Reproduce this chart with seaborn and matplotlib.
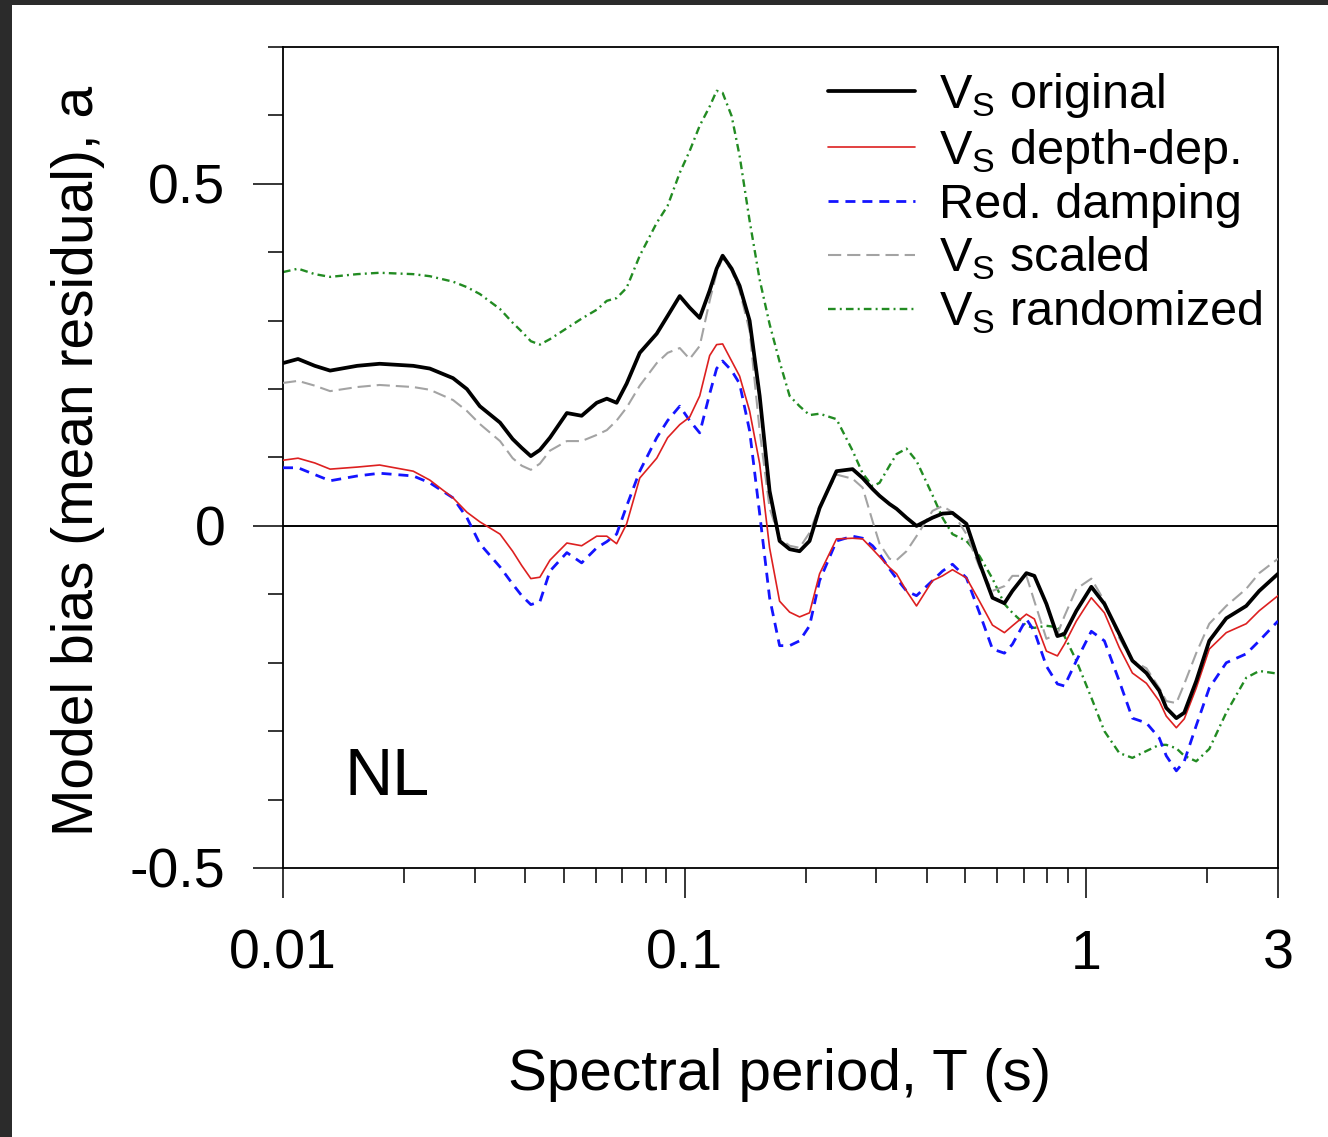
import matplotlib
matplotlib.use("Agg")
import matplotlib.pyplot as plt
import seaborn as sns
import pandas as pd
from matplotlib.patches import Rectangle

# ---------------- data ----------------
period = [0.0100, 0.0109, 0.0120, 0.0131, 0.0153, 0.0174, 0.0211, 0.0232, 0.0265, 0.0287,
          0.0309, 0.0347, 0.0373, 0.0393, 0.0414, 0.0436, 0.0462, 0.0509, 0.0554, 0.0604,
          0.0640, 0.0677, 0.0717, 0.0773, 0.0852, 0.0907, 0.0972, 0.1029, 0.1090, 0.1154,
          0.1201, 0.1243, 0.1309, 0.1370, 0.1451, 0.1537, 0.1627, 0.1723, 0.1825, 0.1932,
          0.2046, 0.2167, 0.2388, 0.2618, 0.2773, 0.2936, 0.3056, 0.3236, 0.3369, 0.3566,
          0.3777, 0.4140, 0.4384, 0.4642, 0.5029, 0.5419, 0.5838, 0.6252, 0.6545, 0.7091,
          0.7423, 0.7954, 0.8471, 0.8818, 0.9445, 1.029, 1.109, 1.208, 1.302, 1.411,
          1.519, 1.581, 1.675, 1.753, 1.877, 2.023, 2.230, 2.500, 2.694, 3.000]

vs_original = [0.238, 0.244, 0.234, 0.227, 0.234, 0.237, 0.234, 0.230, 0.216, 0.200,
               0.175, 0.151, 0.127, 0.114, 0.102, 0.111, 0.129, 0.165, 0.161, 0.180,
               0.186, 0.180, 0.208, 0.253, 0.281, 0.307, 0.336, 0.319, 0.304, 0.344,
               0.376, 0.395, 0.376, 0.351, 0.300, 0.190, 0.051, -0.022, -0.034, -0.037,
               -0.022, 0.026, 0.080, 0.083, 0.070, 0.054, 0.044, 0.032, 0.025, 0.012,
               0.000, 0.012, 0.018, 0.019, 0.003, -0.054, -0.105, -0.113, -0.095, -0.069,
               -0.073, -0.114, -0.161, -0.158, -0.124, -0.089, -0.114, -0.158, -0.197, -0.215,
               -0.241, -0.266, -0.281, -0.273, -0.227, -0.168, -0.135, -0.117, -0.095, -0.070]

vs_depth_dep = [0.096, 0.099, 0.092, 0.083, 0.086, 0.089, 0.080, 0.067, 0.041, 0.020,
                0.006, -0.012, -0.037, -0.058, -0.077, -0.075, -0.050, -0.025, -0.029, -0.015,
                -0.015, -0.026, 0.003, 0.070, 0.099, 0.129, 0.148, 0.159, 0.190, 0.249,
                0.265, 0.266, 0.241, 0.219, 0.168, 0.091, -0.032, -0.110, -0.126, -0.133,
                -0.127, -0.070, -0.019, -0.018, -0.019, -0.034, -0.045, -0.061, -0.070, -0.095,
                -0.117, -0.080, -0.073, -0.064, -0.076, -0.110, -0.145, -0.156, -0.146, -0.129,
                -0.136, -0.183, -0.190, -0.173, -0.139, -0.105, -0.127, -0.178, -0.215, -0.230,
                -0.256, -0.278, -0.295, -0.282, -0.237, -0.180, -0.156, -0.143, -0.124, -0.102]

red_damping = [0.085, 0.085, 0.075, 0.066, 0.073, 0.077, 0.073, 0.063, 0.041, 0.012,
               -0.026, -0.060, -0.085, -0.102, -0.115, -0.111, -0.066, -0.039, -0.054, -0.032,
               -0.023, -0.012, 0.029, 0.080, 0.129, 0.154, 0.175, 0.154, 0.136, 0.193,
               0.230, 0.241, 0.227, 0.208, 0.139, 0.018, -0.105, -0.175, -0.175, -0.168,
               -0.146, -0.080, -0.022, -0.015, -0.018, -0.029, -0.041, -0.063, -0.077, -0.095,
               -0.102, -0.080, -0.066, -0.056, -0.076, -0.127, -0.180, -0.186, -0.173, -0.136,
               -0.154, -0.205, -0.231, -0.234, -0.197, -0.154, -0.168, -0.227, -0.281, -0.288,
               -0.310, -0.336, -0.358, -0.344, -0.292, -0.237, -0.200, -0.187, -0.168, -0.139]

vs_scaled = [0.209, 0.212, 0.205, 0.197, 0.203, 0.206, 0.203, 0.199, 0.184, 0.168,
             0.149, 0.124, 0.099, 0.088, 0.082, 0.091, 0.110, 0.124, 0.124, 0.133,
             0.140, 0.154, 0.173, 0.205, 0.238, 0.253, 0.260, 0.244, 0.263, 0.329,
             0.370, 0.392, 0.373, 0.344, 0.285, 0.139, 0.026, -0.018, -0.029, -0.032,
             -0.010, 0.029, 0.075, 0.069, 0.056, 0.007, -0.026, -0.048, -0.050, -0.037,
             -0.015, 0.022, 0.029, 0.020, -0.012, -0.060, -0.095, -0.088, -0.073, -0.073,
             -0.110, -0.165, -0.158, -0.132, -0.092, -0.077, -0.110, -0.164, -0.197, -0.208,
             -0.237, -0.256, -0.259, -0.231, -0.186, -0.143, -0.117, -0.092, -0.069, -0.048]

vs_randomized = [0.371, 0.376, 0.368, 0.364, 0.368, 0.370, 0.368, 0.365, 0.357, 0.349,
                 0.339, 0.317, 0.297, 0.284, 0.270, 0.265, 0.273, 0.289, 0.303, 0.316,
                 0.329, 0.333, 0.348, 0.395, 0.443, 0.468, 0.516, 0.548, 0.585, 0.613,
                 0.636, 0.633, 0.599, 0.541, 0.446, 0.360, 0.295, 0.240, 0.190, 0.175,
                 0.162, 0.164, 0.156, 0.110, 0.077, 0.058, 0.063, 0.088, 0.105, 0.113,
                 0.095, 0.045, 0.012, -0.012, -0.022, -0.044, -0.077, -0.114, -0.127, -0.146,
                 -0.149, -0.146, -0.148, -0.161, -0.197, -0.251, -0.300, -0.332, -0.339, -0.329,
                 -0.320, -0.320, -0.325, -0.336, -0.344, -0.326, -0.273, -0.222, -0.212, -0.216]

series_labels = [r"V$_\mathregular{S}$ original", r"V$_\mathregular{S}$ depth-dep.",
                 "Red. damping", r"V$_\mathregular{S}$ scaled", r"V$_\mathregular{S}$ randomized"]

x_major = [0.01, 0.1, 1, 3]
x_major_labels = ["0.01", "0.1", "1", "3"]
y_major = [-0.5, 0, 0.5]
y_major_labels = ["-0.5", "0", "0.5"]

# ---------------- style ----------------
sns.set_theme(style="white")
plt.rcParams["font.family"] = ["Liberation Sans", "DejaVu Sans"]
plt.rcParams["mathtext.fontset"] = "custom"
plt.rcParams["mathtext.rm"] = "Liberation Sans"
plt.rcParams["lines.scale_dashes"] = False
plt.rcParams["text.color"] = "black"
plt.rcParams["axes.labelcolor"] = "black"
plt.rcParams["xtick.color"] = "black"
plt.rcParams["ytick.color"] = "black"
plt.rcParams["lines.solid_joinstyle"] = "round"
plt.rcParams["lines.dash_joinstyle"] = "round"

fig = plt.figure(figsize=(13.28, 11.37), dpi=100)
fig.patch.set_facecolor("white")
ax = fig.add_axes([283 / 1328, 1 - 868 / 1137, (1278 - 283) / 1328, (868 - 47) / 1137])
ax.set_facecolor("white")

data = {
    series_labels[0]: vs_original,
    series_labels[1]: vs_depth_dep,
    series_labels[2]: red_damping,
    series_labels[3]: vs_scaled,
    series_labels[4]: vs_randomized,
}
styles = {
    series_labels[0]: dict(color="black", lw=2.7, dashes=None, z=6),
    series_labels[1]: dict(color="#dd2020", lw=1.2, dashes=None, z=5),
    series_labels[2]: dict(color="#1414ff", lw=2.0, dashes=(7.2, 5.0), z=4),
    series_labels[3]: dict(color="#a3a3a3", lw=1.5, dashes=(9.5, 4.3), z=3),
    series_labels[4]: dict(color="#228b22", lw=1.7, dashes=(5.5, 3.0, 1.4, 3.0), z=2),
}

ax.axhline(0, color="black", lw=1.4, zorder=1)

handles = {}
for name in series_labels:
    st = styles[name]
    df = pd.DataFrame({"period": period, "bias": data[name]})
    sns.lineplot(data=df, x="period", y="bias", ax=ax, color=st["color"], lw=st["lw"],
                 estimator=None, zorder=st["z"], label=name, legend=False)
    line = ax.lines[-1]
    if st["dashes"] is not None:
        line.set_dashes(st["dashes"])
    handles[name] = line

ax.set_xscale("log")
ax.set_xlim(0.01, 3)
ax.set_ylim(-0.5, 0.7)
ax.set_xlabel("")
ax.set_ylabel("")

ax.set_xticks(x_major)
ax.set_xticklabels(x_major_labels)
ax.set_xticks([0.02, 0.03, 0.04, 0.05, 0.06, 0.07, 0.08, 0.09,
               0.2, 0.3, 0.4, 0.5, 0.6, 0.7, 0.8, 0.9, 2], minor=True)
ax.set_yticks(y_major)
ax.set_yticklabels(y_major_labels)
ax.set_yticks([-0.4, -0.3, -0.2, -0.1, 0.1, 0.2, 0.3, 0.4, 0.6, 0.7], minor=True)
ax.xaxis.set_minor_formatter(matplotlib.ticker.NullFormatter())

ax.tick_params(axis="both", which="major", direction="out", length=21.6, width=1.1,
               color="black", labelsize=40, labelcolor="black")
ax.tick_params(axis="both", which="minor", direction="out", length=10.8, width=1.1,
               color="black")
ax.tick_params(axis="x", which="major", pad=22)
ax.tick_params(axis="y", which="major", pad=20)
ax.tick_params(axis="x", which="both", bottom=True)
ax.tick_params(axis="y", which="both", left=True)

for sp in ax.spines.values():
    sp.set_visible(True)
    sp.set_color("black")
    sp.set_linewidth(1.3)

leg = ax.legend([handles[n] for n in series_labels], series_labels,
                loc="upper left", bbox_to_anchor=(828 / 1328, 1 - 71 / 1137),
                bbox_transform=fig.transFigure, frameon=False, fontsize=35,
                handlelength=1.79, handletextpad=0.5, labelspacing=0.145,
                borderpad=0, borderaxespad=0)
for t in leg.get_texts():
    t.set_color("black")

fig.text(345 / 1328, 1 - 795 / 1137, "NL", fontsize=48, ha="left", va="baseline",
         color="black")
fig.text(780 / 1328, 1 - 1090 / 1137, "Spectral period, T (s)", fontsize=42,
         ha="center", va="baseline", color="black")
fig.text(78 / 1328, 1 - 461 / 1137, "Model bias (mean residual), a", fontsize=41,
         ha="center", va="center", rotation=90, color="black")

# screenshot frame (dark strip on the left and top)
fig.patches.append(Rectangle((0, 0), 12 / 1328, 1, transform=fig.transFigure,
                             facecolor="#2b2b2b", edgecolor="none", zorder=10))
fig.patches.append(Rectangle((0, 1 - 5 / 1137), 1, 5 / 1137, transform=fig.transFigure,
                             facecolor="#2b2b2b", edgecolor="none", zorder=10))

fig.savefig("out.png", dpi=100)
